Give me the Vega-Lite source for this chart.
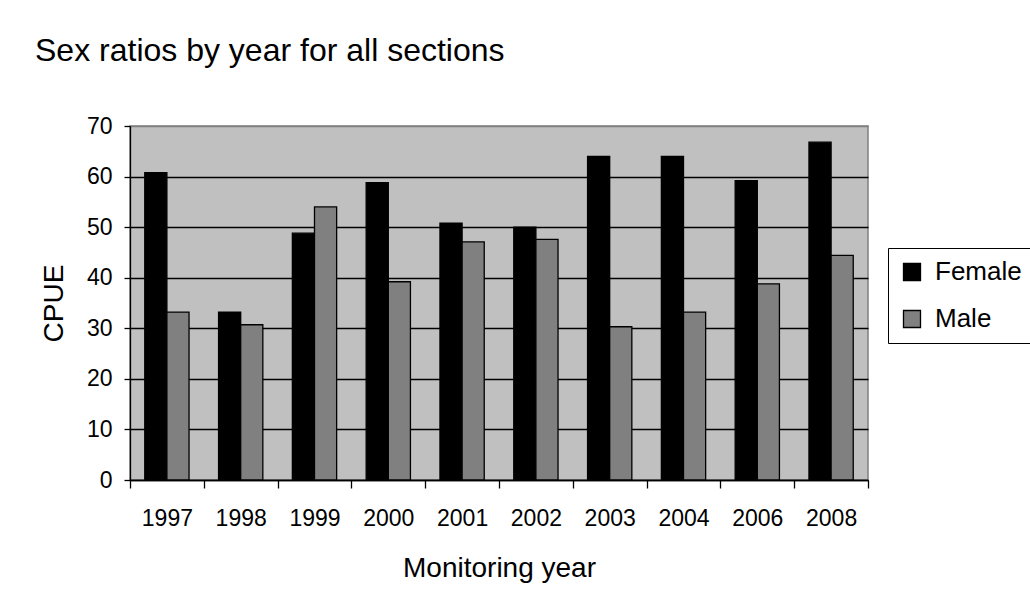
{
  "$schema": "https://vega.github.io/schema/vega-lite/v6.json",
  "autosize": {"type": "none"},
  "width": 738,
  "height": 354,
  "padding": {"left": 130, "top": 126, "right": 162, "bottom": 129},
  "background": "white",
  "title": {
    "text": "Sex ratios by year for all sections",
    "anchor": "start",
    "frame": "group",
    "dx": -95,
    "offset": 22,
    "baseline": "alphabetic",
    "fontSize": 32,
    "fontWeight": "normal",
    "color": "black"
  },
  "data": {
    "values": [
      {"year": "1997", "sex": "Female", "cpue": 60.8},
      {"year": "1997", "sex": "Male", "cpue": 33.2},
      {"year": "1998", "sex": "Female", "cpue": 33.2},
      {"year": "1998", "sex": "Male", "cpue": 30.7},
      {"year": "1999", "sex": "Female", "cpue": 48.8},
      {"year": "1999", "sex": "Male", "cpue": 54.0},
      {"year": "2000", "sex": "Female", "cpue": 58.8},
      {"year": "2000", "sex": "Male", "cpue": 39.2},
      {"year": "2001", "sex": "Female", "cpue": 50.8},
      {"year": "2001", "sex": "Male", "cpue": 47.1},
      {"year": "2002", "sex": "Female", "cpue": 50.0},
      {"year": "2002", "sex": "Male", "cpue": 47.6},
      {"year": "2003", "sex": "Female", "cpue": 64.0},
      {"year": "2003", "sex": "Male", "cpue": 30.3},
      {"year": "2004", "sex": "Female", "cpue": 64.0},
      {"year": "2004", "sex": "Male", "cpue": 33.2},
      {"year": "2006", "sex": "Female", "cpue": 59.2},
      {"year": "2006", "sex": "Male", "cpue": 38.8},
      {"year": "2008", "sex": "Female", "cpue": 66.8},
      {"year": "2008", "sex": "Male", "cpue": 44.4}
    ]
  },
  "mark": {"type": "bar", "stroke": "black", "strokeWidth": 1.3},
  "encoding": {
    "x": {
      "field": "year",
      "type": "nominal",
      "sort": null,
      "scale": {"paddingInner": 0, "paddingOuter": 0},
      "axis": {
        "title": "Monitoring year",
        "labelAngle": 0,
        "tickBand": "extent",
        "tickSize": 8,
        "tickColor": "black",
        "tickWidth": 1.3,
        "domainColor": "black",
        "domainWidth": 1.3,
        "labelPadding": 19,
        "labelFontSize": 23,
        "labelColor": "black",
        "titleFontSize": 28,
        "titleFontWeight": "normal",
        "titleColor": "black",
        "titlePadding": 24,
        "grid": false
      }
    },
    "xOffset": {
      "field": "sex",
      "type": "nominal",
      "sort": ["Female", "Male"],
      "scale": {"paddingInner": 0, "paddingOuter": 0.667}
    },
    "y": {
      "field": "cpue",
      "type": "quantitative",
      "scale": {"domain": [0, 70]},
      "axis": {
        "title": "CPUE",
        "values": [0, 10, 20, 30, 40, 50, 60, 70],
        "grid": true,
        "gridColor": {"condition": {"test": "datum.value === 70", "value": "#808080"}, "value": "black"},
        "gridWidth": 1.3,
        "gridOpacity": 1,
        "tickSize": 6,
        "tickColor": "black",
        "tickWidth": 1.3,
        "domainColor": "black",
        "domainWidth": 1.3,
        "labelPadding": 12,
        "labelFontSize": 23,
        "labelColor": "black",
        "titleFontSize": 28,
        "titleFontWeight": "normal",
        "titleColor": "black",
        "titlePadding": 18
      }
    },
    "color": {
      "field": "sex",
      "type": "nominal",
      "scale": {"domain": ["Female", "Male"], "range": ["#000000", "#808080"]},
      "legend": {
        "title": null,
        "orient": "none",
        "legendX": 758,
        "legendY": 122,
        "direction": "vertical",
        "symbolType": "square",
        "symbolSize": 289,
        "symbolStrokeColor": "black",
        "symbolStrokeWidth": 1.3,
        "symbolOpacity": 1,
        "labelFontSize": 26,
        "labelColor": "black",
        "labelOffset": 10,
        "labelLimit": 0,
        "rowPadding": 21,
        "padding": 11,
        "strokeColor": "black",
        "fillColor": "white"
      }
    }
  },
  "config": {
    "font": "Liberation Sans",
    "view": {"fill": "#c0c0c0", "stroke": "#808080", "strokeWidth": 1.5}
  }
}
